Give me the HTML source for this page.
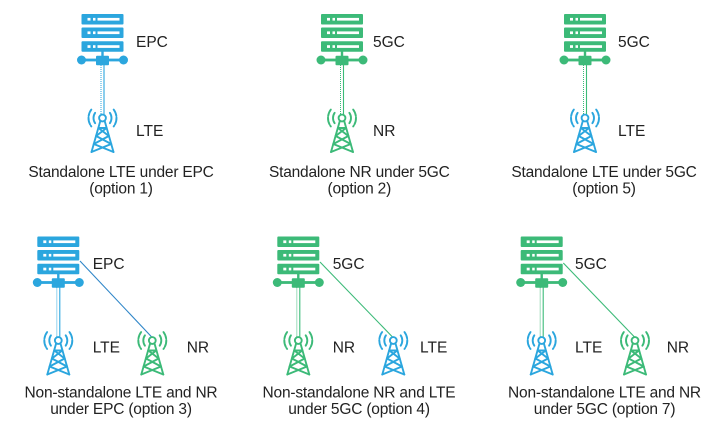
<!DOCTYPE html>
<html><head><meta charset="utf-8">
<style>
html,body{margin:0;padding:0;background:#fff;}
svg{display:block;}
text{font-family:"Liberation Sans",Arial,sans-serif;fill:#222;}
.lbl{font-size:15.5px;}
.cap{font-size:15.5px;letter-spacing:-0.2px;text-anchor:middle;}
</style></head>
<body>
<svg width="717" height="428" viewBox="0 0 717 428" xmlns="http://www.w3.org/2000/svg">
<defs>
<symbol id="srv" overflow="visible">
  <g fill="currentColor">
    <rect x="-21" y="0" width="42" height="10.5" rx="1"/>
    <rect x="-21" y="13.5" width="42" height="10.5" rx="1"/>
    <rect x="-21" y="27.3" width="42" height="10.5" rx="1"/>
    <rect x="-1.2" y="37" width="2.4" height="6"/>
    <rect x="-21" y="44.6" width="42" height="2.8"/>
    <circle cx="-21" cy="46" r="4.5"/>
    <circle cx="21" cy="46" r="4.5"/>
    <rect x="-6.5" y="41.8" width="13" height="9.4" rx="1"/>
  </g>
  <g fill="#fff">
    <rect x="-15" y="3.9" width="3" height="2.7"/><rect x="-9.5" y="3.9" width="2.5" height="2.7"/><rect x="-5" y="3.9" width="22" height="2.7"/>
    <rect x="-15" y="17.4" width="3" height="2.7"/><rect x="-9.5" y="17.4" width="2.5" height="2.7"/><rect x="-5" y="17.4" width="22" height="2.7"/>
    <rect x="-15" y="31.2" width="3" height="2.7"/><rect x="-9.5" y="31.2" width="2.5" height="2.7"/><rect x="-5" y="31.2" width="22" height="2.7"/>
  </g>
  <line x1="-1.5" y1="51" x2="-1.5" y2="100.5" stroke="currentColor" stroke-width="1" stroke-dasharray="1 1"/>
  <line x1="1.5" y1="51" x2="1.5" y2="100.5" stroke="currentColor" stroke-width="1.1"/>
</symbol>
<symbol id="twr" overflow="visible">
  <g fill="none" stroke="currentColor" stroke-width="1.9" stroke-linecap="round">
    <circle cx="0" cy="0" r="3.4" fill="#fff"/>
    <line x1="-2.2" y1="3" x2="-11" y2="34"/>
    <line x1="2.2" y1="3" x2="11" y2="34"/>
    <line x1="-4" y1="10" x2="4" y2="10"/>
    <line x1="-4" y1="10" x2="6.35" y2="18"/>
    <line x1="4" y1="10" x2="-6.35" y2="18"/>
    <line x1="-6.35" y1="18" x2="8.7" y2="26"/>
    <line x1="6.35" y1="18" x2="-8.7" y2="26"/>
    <line x1="-8.7" y1="26" x2="11" y2="34"/>
    <line x1="8.7" y1="26" x2="-11" y2="34"/>
    <path d="M -7.37 -5.16 A 9 9 0 0 0 -7.37 5.16"/>
    <path d="M 7.37 -5.16 A 9 9 0 0 1 7.37 5.16"/>
    <path d="M -11.18 -8.43 A 14 14 0 0 0 -11.18 8.43" stroke-dasharray="7 1.5"/>
    <path d="M 11.18 -8.43 A 14 14 0 0 1 11.18 8.43" stroke-dasharray="7 1.5"/>
  </g>
</symbol>
</defs>

<!-- Top row -->
<use href="#srv" x="102.5" y="14" style="color:#2ba6de"/>
<use href="#twr" x="102.5" y="118" style="color:#2ba6de"/>
<text class="lbl" x="136" y="47">EPC</text>
<text class="lbl" x="136" y="136">LTE</text>
<text class="cap" x="121" y="177">Standalone LTE under EPC</text>
<text class="cap" x="121" y="193.5">(option 1)</text>

<use href="#srv" x="342" y="14" style="color:#3cba78"/>
<use href="#twr" x="342" y="118" style="color:#3cba78"/>
<text class="lbl" x="373" y="47">5GC</text>
<text class="lbl" x="373" y="136">NR</text>
<text class="cap" x="359.3" y="177">Standalone NR under 5GC</text>
<text class="cap" x="359.3" y="193.5">(option 2)</text>

<use href="#srv" x="585" y="14" style="color:#3cba78"/>
<use href="#twr" x="585" y="118" style="color:#2ba6de"/>
<text class="lbl" x="618" y="47">5GC</text>
<text class="lbl" x="618" y="136">LTE</text>
<text class="cap" x="604" y="177">Standalone LTE under 5GC</text>
<text class="cap" x="604" y="193.5">(option 5)</text>

<!-- Bottom row -->
<line x1="80" y1="261" x2="151.7" y2="337" stroke="#2f86c8" stroke-width="1.1"/>
<use href="#srv" x="58.3" y="236.5" style="color:#2ba6de"/>
<use href="#twr" x="58.3" y="340.5" style="color:#2ba6de"/>
<use href="#twr" x="152.3" y="340.5" style="color:#3cba78"/>
<text class="lbl" x="92.7" y="269">EPC</text>
<text class="lbl" x="92.7" y="352.7">LTE</text>
<text class="lbl" x="186.7" y="352.7">NR</text>
<text class="cap" x="121" y="397.3">Non-standalone LTE and NR</text>
<text class="cap" x="121" y="414">under EPC (option 3)</text>

<line x1="320" y1="262" x2="392.5" y2="337" stroke="#3cba78" stroke-width="1.1"/>
<use href="#srv" x="298.3" y="236.5" style="color:#3cba78"/>
<use href="#twr" x="298.3" y="340.5" style="color:#3cba78"/>
<use href="#twr" x="393.3" y="340.5" style="color:#2ba6de"/>
<text class="lbl" x="332.7" y="269">5GC</text>
<text class="lbl" x="332.7" y="352.7">NR</text>
<text class="lbl" x="420" y="352.7">LTE</text>
<text class="cap" x="359" y="397.3">Non-standalone NR and LTE</text>
<text class="cap" x="359" y="414">under 5GC (option 4)</text>

<line x1="563.3" y1="263" x2="634.5" y2="337" stroke="#3cba78" stroke-width="1.1"/>
<use href="#srv" x="541.7" y="236.5" style="color:#3cba78"/>
<use href="#twr" x="541.7" y="340.5" style="color:#2ba6de"/>
<use href="#twr" x="635" y="340.5" style="color:#3cba78"/>
<text class="lbl" x="575" y="269">5GC</text>
<text class="lbl" x="575" y="352.7">LTE</text>
<text class="lbl" x="666.7" y="352.7">NR</text>
<text class="cap" x="604.5" y="397.3">Non-standalone LTE and NR</text>
<text class="cap" x="604.5" y="414">under 5GC (option 7)</text>
</svg>
</body></html>
